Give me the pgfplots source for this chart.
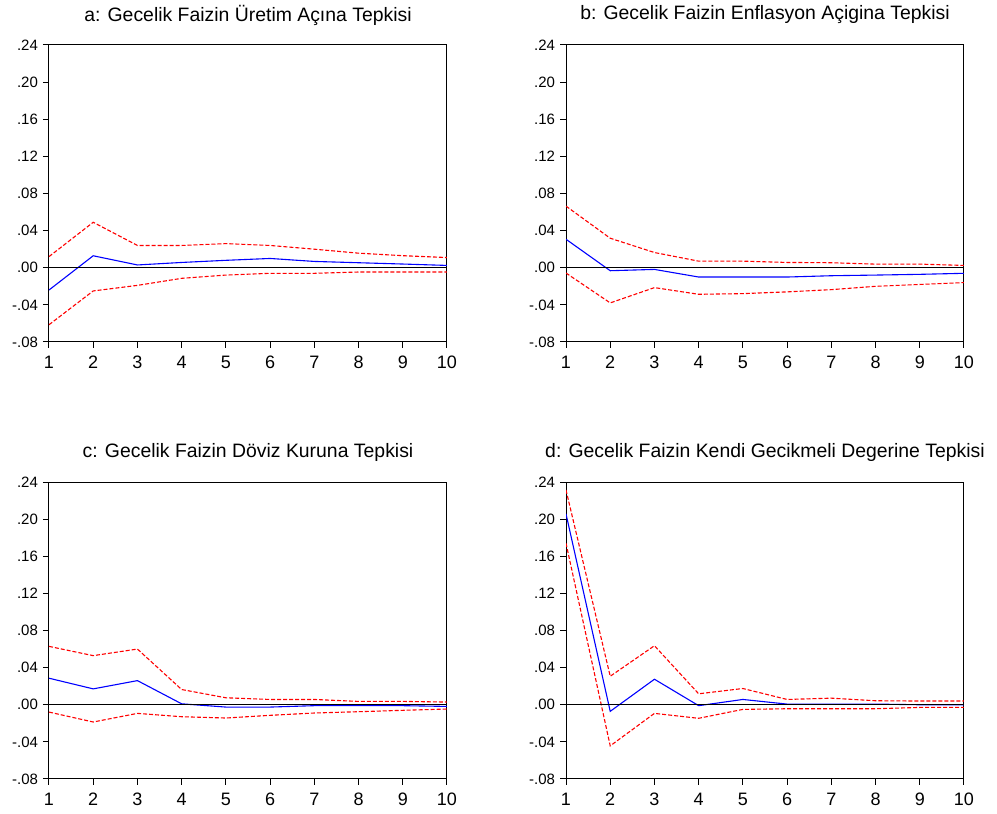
\documentclass[border=0pt]{standalone}
\usepackage{fontspec}
\setmainfont{Liberation Sans}
\usepackage{pgfplots}
\pgfplotsset{compat=1.18}
\pgfplotsset{
  panel/.style={
    scale only axis, width=199pt, height=148.5pt,
    anchor=south west,
    xmin=1, xmax=10, ymin=-0.08, ymax=0.24,
    xtick={1,2,3,4,5,6,7,8,9,10},
    ytick={-0.08,-0.04,0,0.04,0.08,0.12,0.16,0.2,0.24},
    yticklabels={-.08,-.04,.00,.04,.08,.12,.16,.20,.24},
    scaled y ticks=false,
    xtick pos=bottom, ytick pos=left,
    tick align=outside,
    major tick length=3pt,
    every tick/.style={black, line width=0.5pt},
    axis line style={black, line width=0.5pt},
    /pgf/number format/assume math mode=true,
    xticklabel style={font=\fontsize{9}{10}\selectfont, yshift=-0.5pt},
    yticklabel style={font=\fontsize{7.5}{8.5}\selectfont, xshift=1pt},
    title style={at={(0.5,1)}, anchor=center, yshift=9pt, font=\fontsize{9.7}{11}\selectfont},
    clip=true,
  },
  ci/.style={red, line width=0.55pt, dash pattern=on 2pt off 1pt},
  irf/.style={blue, line width=0.55pt},
  zl/.style={black, line width=0.45pt},
}
\begin{document}
\begin{tikzpicture}
\useasboundingbox (0,0) rectangle (498.5pt,407pt);
% Panel a
\begin{axis}[panel, at={(24.5pt,236pt)}, title={a: Gecelik Faizin Üretim Açına Tepkisi}]
\addplot[ci] coordinates {(1,0.012) (2,0.049) (3,0.024) (4,0.024) (5,0.026) (6,0.024) (7,0.020) (8,0.0157) (9,0.013) (10,0.011)};
\addplot[ci] coordinates {(1,-0.0614) (2,-0.025) (3,-0.019) (4,-0.0114) (5,-0.0079) (6,-0.006) (7,-0.006) (8,-0.0046) (9,-0.0046) (10,-0.0046)};
\addplot[irf] coordinates {(1,-0.024) (2,0.0129) (3,0.003) (4,0.0057) (5,0.008) (6,0.010) (7,0.0068) (8,0.0054) (9,0.004) (10,0.0025)};
\addplot[zl] coordinates {(1,0) (10,0)};
\end{axis}
% Panel b
\begin{axis}[panel, at={(283pt,236pt)}, title={b: Gecelik Faizin Enflasyon Açigina Tepkisi}]
\addplot[ci] coordinates {(1,0.0664) (2,0.0318) (3,0.0164) (4,0.0071) (5,0.0071) (6,0.0057) (7,0.0054) (8,0.0039) (9,0.0039) (10,0.0025)};
\addplot[ci] coordinates {(1,-0.0057) (2,-0.0379) (3,-0.0214) (4,-0.0286) (5,-0.0279) (6,-0.026) (7,-0.0236) (8,-0.020) (9,-0.018) (10,-0.016)};
\addplot[irf] coordinates {(1,0.0307) (2,-0.0032) (3,-0.0018) (4,-0.010) (5,-0.010) (6,-0.010) (7,-0.0086) (8,-0.0079) (9,-0.0071) (10,-0.006)};
\addplot[zl] coordinates {(1,0) (10,0)};
\end{axis}
% Panel c
\begin{axis}[panel, at={(24.5pt,17.5pt)}, title={c: Gecelik Faizin Döviz Kuruna Tepkisi}]
\addplot[ci] coordinates {(1,0.0629) (2,0.0529) (3,0.060) (4,0.0164) (5,0.0075) (6,0.0057) (7,0.0057) (8,0.0036) (9,0.0036) (10,0.0029)};
\addplot[ci] coordinates {(1,-0.0079) (2,-0.0186) (3,-0.0093) (4,-0.0129) (5,-0.0143) (6,-0.0114) (7,-0.0089) (8,-0.0075) (9,-0.006) (10,-0.0046)};
\addplot[irf] coordinates {(1,0.0286) (2,0.0171) (3,0.026) (4,0.001) (5,-0.0025) (6,-0.0025) (7,-0.001) (8,-0.001) (9,-0.001) (10,-0.0018)};
\addplot[zl] coordinates {(1,0) (10,0)};
\end{axis}
% Panel d
\begin{axis}[panel, at={(283pt,17.5pt)}, title={d: Gecelik Faizin Kendi Gecikmeli Degerine Tepkisi}]
\addplot[ci] coordinates {(1,0.2314) (2,0.0307) (3,0.0636) (4,0.0118) (5,0.0175) (6,0.0057) (7,0.0071) (8,0.0043) (9,0.004) (10,0.004)};
\addplot[ci] coordinates {(1,0.174) (2,-0.0443) (3,-0.0093) (4,-0.0146) (5,-0.005) (6,-0.0043) (7,-0.0043) (8,-0.0043) (9,-0.0029) (10,-0.0029)};
\addplot[irf] coordinates {(1,0.2057) (2,-0.0071) (3,0.0275) (4,-0.001) (5,0.0057) (6,0.0007) (7,0.0007) (8,0.0007) (9,0) (10,0)};
\addplot[zl] coordinates {(1,0) (10,0)};
\end{axis}
\end{tikzpicture}
\end{document}
